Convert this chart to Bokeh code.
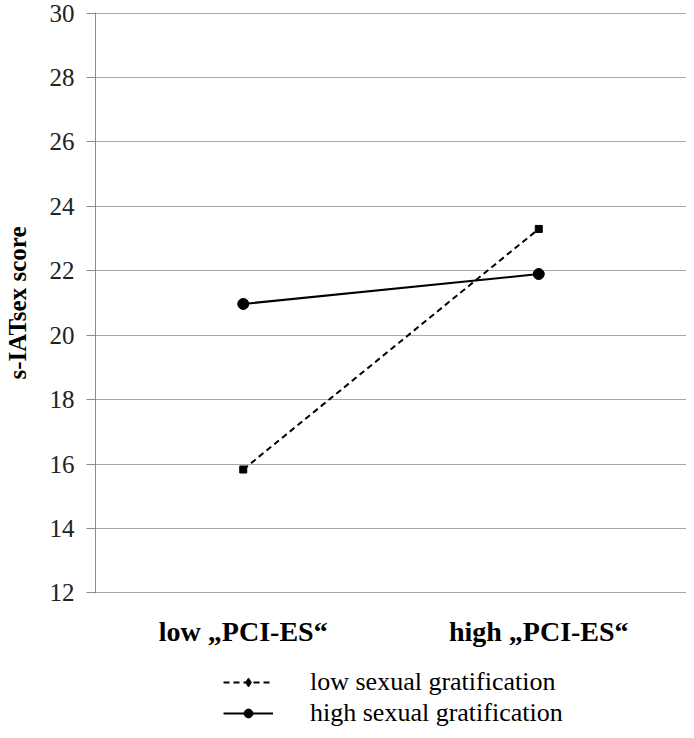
from bokeh.plotting import figure
from bokeh.layouts import column
from bokeh.models import Legend, LegendItem, Range1d, FactorRange, SingleIntervalTicker
from bokeh.embed import file_html
from bokeh.resources import INLINE

categories = ["low \u201ePCI-ES\u201c", "high \u201ePCI-ES\u201c"]
low_grat = [15.83, 23.3]
high_grat = [20.97, 21.9]
series_names = ["low sexual gratification", "high sexual gratification"]

SERIF = "Liberation Serif, Times New Roman, serif"
GRID = "#a8a8a8"

p = figure(width=686, height=656,
           x_range=FactorRange(*categories, range_padding=0),
           y_range=Range1d(11.98, 30.02), output_backend="svg", toolbar_location=None,
           min_border_left=89, min_border_top=12, min_border_right=0,
           min_border_bottom=63)
p.outline_line_color = None
p.background_fill_color = "white"
p.border_fill_color = "white"

p.yaxis.ticker = SingleIntervalTicker(interval=2)
p.yaxis.minor_tick_line_color = None
p.yaxis.axis_line_color = "#8c8c8c"
p.yaxis.major_tick_line_color = "#8c8c8c"
p.yaxis.major_tick_out = 9
p.yaxis.major_tick_in = 0
p.yaxis.major_label_text_font = SERIF
p.yaxis.major_label_text_font_size = "25px"
p.yaxis.major_label_text_color = "#222222"
p.yaxis.major_label_standoff = 12
p.yaxis.axis_label = "s-IATsex score"
p.yaxis.axis_label_text_font = SERIF
p.yaxis.axis_label_text_font_style = "bold"
p.yaxis.axis_label_text_font_size = "25px"
p.yaxis.axis_label_text_color = "black"
p.yaxis.axis_label_standoff = 16

p.xaxis.axis_line_color = None
p.xaxis.major_tick_line_color = None
p.xaxis.minor_tick_line_color = None
p.xaxis.major_label_text_font = SERIF
p.xaxis.major_label_text_font_style = "bold"
p.xaxis.major_label_text_font_size = "28px"
p.xaxis.major_label_text_color = "black"
p.xaxis.major_label_standoff = 16

p.xgrid.grid_line_color = None
p.ygrid.grid_line_color = GRID
p.ygrid.grid_line_width = 1.2

LOW_STYLE = dict(line_color="black", line_width=2, line_dash="6 4")
HIGH_STYLE = dict(line_color="black", line_width=2)

p.line(categories, low_grat, **LOW_STYLE)
p.scatter(categories, low_grat, marker="square", size=7, color="black")
p.line(categories, high_grat, **HIGH_STYLE)
p.scatter(categories, high_grat, marker="circle", size=11, color="black")

# legend-only figure below the chart (its renderers sit outside its visible range)
q = figure(width=686, height=72, x_range=Range1d(0, 1), y_range=Range1d(0, 1),
           output_backend="svg", toolbar_location=None,
           min_border_left=0, min_border_right=0, min_border_top=0, min_border_bottom=0)
q.axis.visible = False
q.grid.visible = False
q.outline_line_color = None
off = [5, 6]
lq1 = q.line(off, off, **LOW_STYLE)
sq1 = q.scatter(off, off, marker="diamond", size=10, color="black")
lq2 = q.line(off, off, **HIGH_STYLE)
sq2 = q.scatter(off, off, marker="circle", size=9, color="black")

legend = Legend(items=[LegendItem(label=series_names[0], renderers=[lq1, sq1]),
                       LegendItem(label=series_names[1], renderers=[lq2, sq2])],
                location=(128, 0), orientation="vertical",
                label_text_font=SERIF, label_text_font_size="26px",
                label_text_color="black",
                glyph_width=50, glyph_height=22, label_standoff=37,
                label_height=22, spacing=1, border_line_color=None,
                background_fill_alpha=0, padding=2, margin=0)
q.add_layout(legend, "center")

layout = column(p, q, spacing=0)
open("out.html", "w").write(file_html(layout, INLINE))
